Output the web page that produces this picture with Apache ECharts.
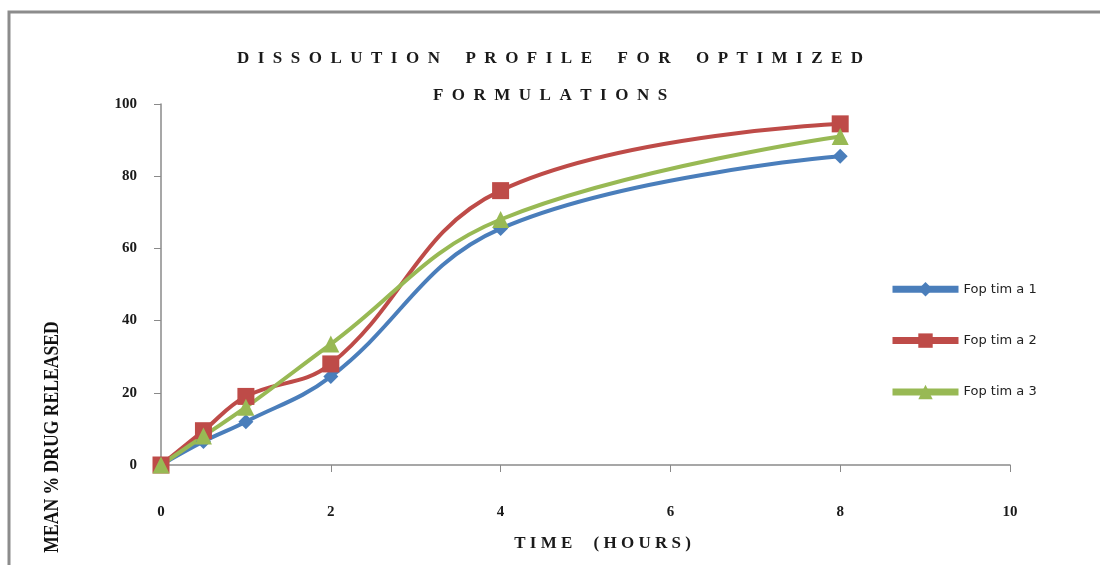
<!DOCTYPE html>
<html>
<head>
<meta charset="utf-8">
<script src="https://cdn.jsdelivr.net/npm/echarts@6/dist/echarts.min.js"></script>
<style>
  html, body { margin: 0; padding: 0; background: #fff; }
  #chart { width: 1100px; height: 565px; }
</style>
</head>
<body>
<div id="chart"></div>
<script>
// time points (hours) and % drug released per formulation
const hours = [0, 0.5, 1, 2, 4, 8];
const foptima1 = [0, 6.5, 12, 24.5, 65.5, 85.5];
const foptima2 = [0, 9.5, 19, 28, 76, 94.5];
const foptima3 = [0, 8, 16, 33.5, 68, 91];
const seriesNames = ["Fop tim a 1", "Fop tim a 2", "Fop tim a 3"];

const serif = "'Liberation Serif', 'DejaVu Serif', serif";

const chart = echarts.init(document.getElementById("chart"));

const makeSeries = (name, values, color, symbol, size) => ({
  name,
  type: "line",
  smooth: 0.4,
  data: hours.map((h, i) => [h, values[i]]),
  symbol,
  symbolSize: size,
  lineStyle: { color, width: 4 },
  itemStyle: { color },
});

const option = {
  backgroundColor: "#fff",
  animation: false,
  title: {
    text: "D  I  S  S  O  L  U  T  I  O  N      P  R  O  F  I  L  E      F  O  R      O  P  T  I  M  I  Z  E  D\nF  O  R  M  U  L  A  T  I  O  N  S",
    left: "center",
    top: 35,
    textStyle: {
      fontFamily: serif,
      fontWeight: "bold",
      fontSize: 17,
      lineHeight: 37,
      color: "#1a1a1a",
    },
  },
  legend: {
    orient: "vertical",
    left: 884,
    top: 277,
    itemWidth: 66,
    itemHeight: 18,
    itemGap: 37,
    lineStyle: { width: 7 },
    textStyle: { fontFamily: "'DejaVu Sans', sans-serif", fontSize: 13, color: "#222" },
    data: seriesNames,
  },
  grid: { left: 161, right: 90, top: 104, bottom: 100 },
  xAxis: {
    type: "value",
    min: 0,
    max: 10,
    interval: 2,
    name: "T I M E     ( H O U R S )",
    nameLocation: "middle",
    nameGap: 70,
    nameTextStyle: {
      fontFamily: serif,
      fontWeight: "bold",
      fontSize: 17,
      color: "#1a1a1a",
      padding: [0, 0, 0, 34],
    },
    axisLine: { show: true, lineStyle: { color: "#8a8a8a", width: 1.5 } },
    axisTick: { show: true, length: 7, lineStyle: { color: "#8a8a8a" } },
    axisLabel: { margin: 40, fontFamily: serif, fontWeight: "bold", fontSize: 15, color: "#1a1a1a" },
    splitLine: { show: false },
  },
  yAxis: {
    type: "value",
    min: 0,
    max: 100,
    interval: 20,
    axisLine: { show: true, lineStyle: { color: "#8a8a8a", width: 1.5 } },
    axisTick: { show: true, length: 7, lineStyle: { color: "#8a8a8a" } },
    axisLabel: { margin: 24, fontFamily: serif, fontWeight: "bold", fontSize: 15, color: "#1a1a1a" },
    splitLine: { show: false },
  },
  graphic: [
    {
      type: "rect",
      shape: { x: 9, y: 12, width: 1100, height: 560 },
      style: { fill: "none", stroke: "#8c8c8c", lineWidth: 3 },
      silent: true,
    },
    {
      type: "text",
      x: 52,
      y: 437,
      rotation: Math.PI / 2,
      scaleX: 0.8,
      style: {
        text: "MEAN % DRUG RELEASED",
        font: "bold 22px " + serif,
        fill: "#111",
        textAlign: "center",
        textVerticalAlign: "middle",
      },
    },
  ],
  series: [
    makeSeries(seriesNames[0], foptima1, "#4a7ebb", "diamond", 15),
    makeSeries(seriesNames[1], foptima2, "#be4b48", "rect", 17),
    makeSeries(seriesNames[2], foptima3, "#98b954", "triangle", 17),
  ],
};

chart.setOption(option);
</script>
</body>
</html>
